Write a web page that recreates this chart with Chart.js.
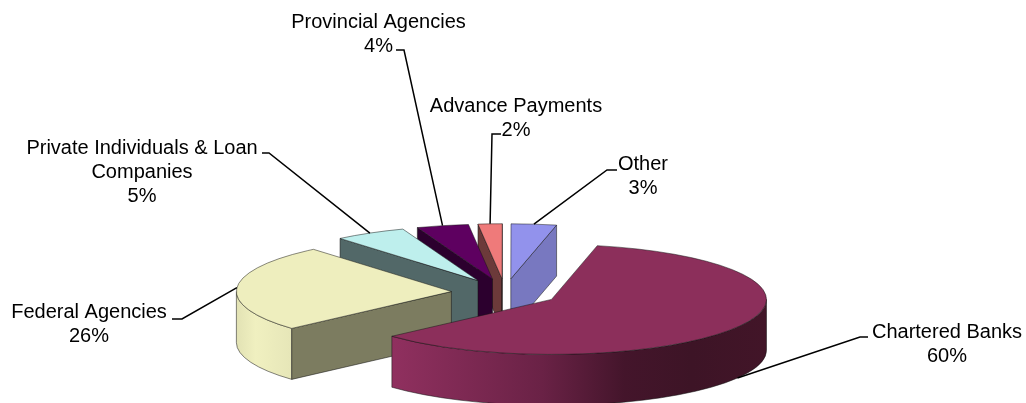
<!DOCTYPE html>
<html>
<head>
<meta charset="utf-8">
<title>Loans by lender</title>
<script src="https://cdn.jsdelivr.net/npm/chart.js@4/dist/chart.umd.min.js"></script>
<style>
  html, body { margin: 0; padding: 0; background: #ffffff; }
  canvas { display: block; }
</style>
</head>
<body>
<canvas id="pie" width="1026" height="403"></canvas>
<script>
const categories = ['Chartered Banks', 'Federal Agencies', 'Private Individuals & Loan Companies', 'Provincial Agencies', 'Advance Payments', 'Other'];
// they round to the printed percentages
const shares = [59.9, 25.6, 5.4, 3.9, 1.8, 3.4];

const topColors = ['#8c2f5b', '#eeeebe', '#beefed', '#5e0060', '#ef7a7a', '#9292ec'];
const cutColors = ['#5a1e3c', '#7c7c60', '#526868', '#2c002e', '#6c3a3a', '#7878c0'];
const wallStops = [
  [[0, '#90305f'], [0.4, '#6a2246'], [0.62, '#44152b'], [0.8, '#3d1426'], [1, '#421528']],
  [[0, '#e2e2b4'], [0.35, '#f0f0c0'], [1, '#e6e6b8']]
];

// label text lines and where they sit, elbow = where the leader line bends
const labelLayout = [
  { lines: ['Chartered Banks'], cx: 947, cy: 331, from: [868, 337], elbow: [860, 337] },
  { lines: ['Federal Agencies'], cx: 89, cy: 311, from: [172, 319], elbow: [182, 319] },
  { lines: ['Private Individuals & Loan', 'Companies'], cx: 142, cy: 147, from: [262, 153], elbow: [269, 153] },
  { lines: ['Provincial Agencies'], cx: 378.5, cy: 21, from: [396, 50], elbow: [404, 50] },
  { lines: ['Advance Payments'], cx: 516, cy: 105, from: [501, 134], elbow: [492, 134] },
  { lines: ['Other'], cx: 643, cy: 163, from: [617, 170], elbow: [607, 170] }
];

const rimX = 215;      // half width of the tilted pie
const rimY = 55;       // half height of the tilted pie
const depth = 51;      // wall height
const explode = 0.25;  // share of the radius every slice is pulled out by
const labelFont = '20px "Liberation Sans", Arial, sans-serif';

// where a slice's parts land once the pie is tilted
function sliceGeometry(el) {
  const mid = (el.startAngle + el.endAngle) / 2;
  const ax = el.x + Math.cos(mid) * explode * rimX;
  const ay = el.y + Math.sin(mid) * explode * rimY;
  return {
    ax, ay, mid,
    rim: a => [ax + Math.cos(a) * rimX, ay + Math.sin(a) * rimY]
  };
}

function drawCut(ctx, g, angle, color) {
  const p = g.rim(angle);
  ctx.beginPath();
  ctx.moveTo(g.ax, g.ay);
  ctx.lineTo(p[0], p[1]);
  ctx.lineTo(p[0], p[1] + depth);
  ctx.lineTo(g.ax, g.ay + depth);
  ctx.closePath();
  ctx.fillStyle = color;
  ctx.fill();
  ctx.strokeStyle = 'rgba(20,20,20,0.75)';
  ctx.lineWidth = 0.7;
  ctx.stroke();
}

function drawWall(ctx, g, from, to, stops) {
  const a0 = Math.max(from, 0);
  const a1 = Math.min(to, Math.PI);
  if (a1 <= a0) return;
  const p0 = g.rim(a0), p1 = g.rim(a1);
  const grad = ctx.createLinearGradient(Math.min(p0[0], p1[0]), 0, Math.max(p0[0], p1[0]), 0);
  stops.forEach(s => grad.addColorStop(s[0], s[1]));
  ctx.beginPath();
  ctx.ellipse(g.ax, g.ay, rimX, rimY, 0, a0, a1);
  ctx.ellipse(g.ax, g.ay + depth, rimX, rimY, 0, a1, a0, true);
  ctx.closePath();
  ctx.fillStyle = grad;
  ctx.fill();
  ctx.strokeStyle = 'rgba(20,20,20,0.75)';
  ctx.lineWidth = 0.7;
  ctx.stroke();
}

const tiltedPie = {
  id: 'tiltedPie',
  // draws the arcs back to front, the front slice has to end up on top
  beforeDatasetsDraw(chart) {
    const ctx = chart.ctx;
    const arcs = chart.getDatasetMeta(0).data;
    for (let i = arcs.length - 1; i >= 0; i--) {
      const el = arcs[i];
      const g = sliceGeometry(el);
      const start = el.startAngle, end = el.endAngle;

      // normalise to 0..2PI to see which part of the rim faces us
      let s = start, e = end;
      while (s < 0) { s += Math.PI * 2; e += Math.PI * 2; }
      if (wallStops[i]) {
        drawWall(ctx, g, s, e, wallStops[i]);
        if (e > Math.PI * 2) drawWall(ctx, g, s - Math.PI * 2, e - Math.PI * 2, wallStops[i]);
      }
      if (Math.cos(start) < 0) drawCut(ctx, g, start, cutColors[i]);
      if (Math.cos(end) > 0) drawCut(ctx, g, end, cutColors[i]);

      const r = el.outerRadius;
      ctx.save();
      ctx.translate(g.ax, g.ay);
      ctx.scale(rimX / r, rimY / r);
      ctx.translate(-el.x, -el.y);
      el.draw(ctx);
      ctx.restore();

      const p0 = g.rim(start);
      ctx.beginPath();
      ctx.moveTo(g.ax, g.ay);
      ctx.lineTo(p0[0], p0[1]);
      ctx.ellipse(g.ax, g.ay, rimX, rimY, 0, start, end);
      ctx.closePath();
      ctx.strokeStyle = 'rgba(20,20,20,0.7)';
      ctx.lineWidth = 0.7;
      ctx.stroke();
    }
    return false;
  },
  afterDraw(chart) {
    const ctx = chart.ctx;
    const arcs = chart.getDatasetMeta(0).data;
    ctx.save();
    ctx.font = labelFont;
    ctx.textAlign = 'center';
    ctx.textBaseline = 'middle';
    ctx.fillStyle = '#000000';
    ctx.strokeStyle = '#000000';
    ctx.lineWidth = 1.5;
    labelLayout.forEach((lab, i) => {
      const g = sliceGeometry(arcs[i]);
      const tip = g.rim(g.mid);
      // leaders of the front slices land on the bottom of the wall
      const tipY = Math.sin(g.mid) > 0.2 ? tip[1] + depth : tip[1];
      ctx.beginPath();
      ctx.moveTo(lab.from[0], lab.from[1]);
      ctx.lineTo(lab.elbow[0], lab.elbow[1]);
      ctx.lineTo(tip[0], tipY);
      ctx.stroke();
      const rows = lab.lines.concat(Math.round(shares[i]) + '%');
      rows.forEach((t, n) => ctx.fillText(t, lab.cx, lab.cy + 1 + n * 24));
    });
    ctx.restore();
  }
};

new Chart(document.getElementById('pie'), {
  type: 'pie',
  data: {
    labels: categories,
    datasets: [{
      data: shares,
      backgroundColor: topColors,
      borderWidth: 0,
      hoverOffset: 0
    }]
  },
  options: {
    responsive: false,
    animation: false,
    rotation: 12.3,
    layout: { padding: { top: 182, right: 16, left: 0, bottom: 0 } },
    plugins: {
      legend: { display: false },
      tooltip: { enabled: false }
    }
  },
  plugins: [tiltedPie]
});
</script>
</body>
</html>
